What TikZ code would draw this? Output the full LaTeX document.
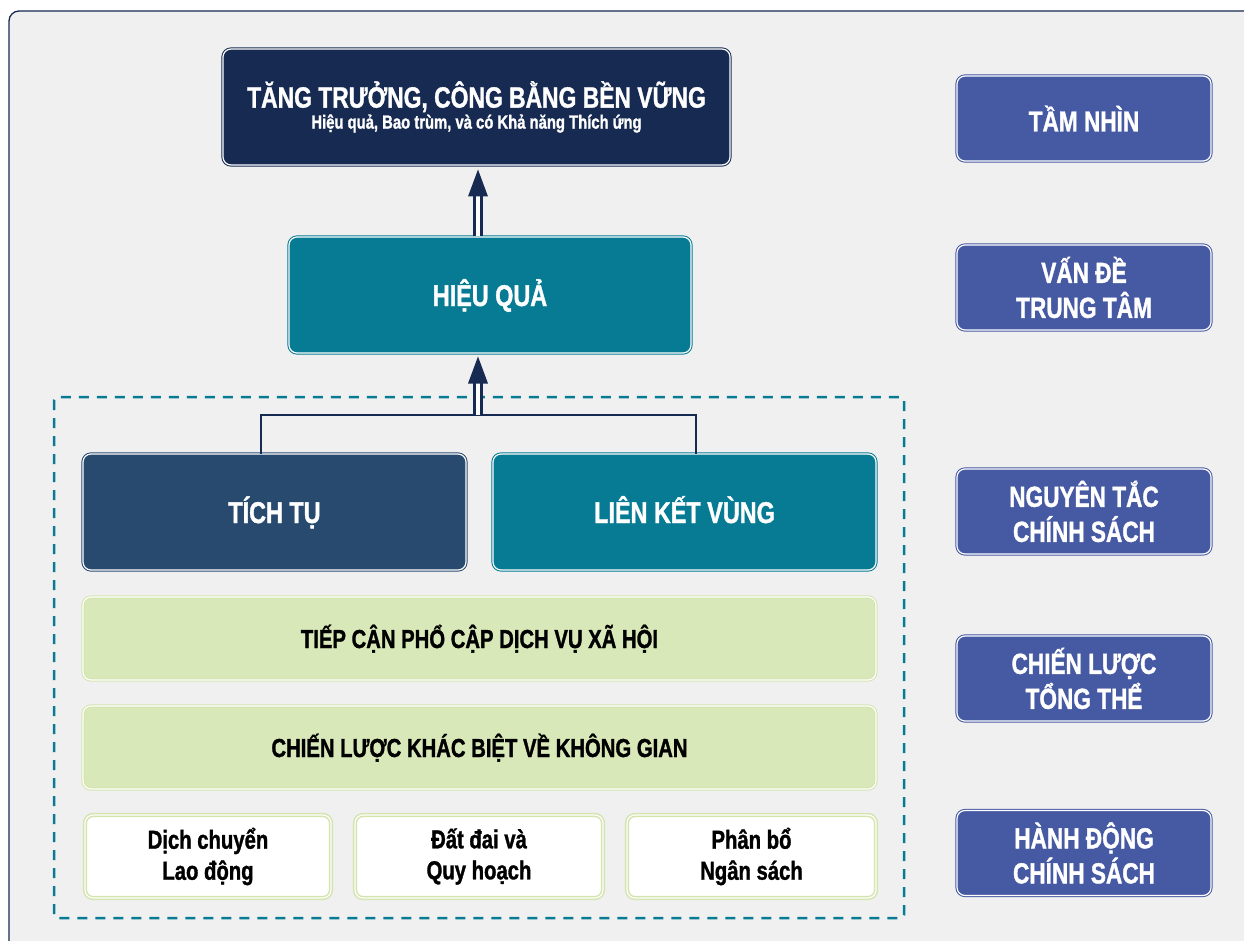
\documentclass[tikz,border=0pt]{standalone}
\usepackage{fontspec}
\setmainfont{Liberation Sans}[FakeStretch=0.78, BoldFeatures={FakeBold=1.2}]
\usepackage{tikz}
\usetikzlibrary{calc}

\definecolor{navy}{HTML}{172A51}
\definecolor{teal}{HTML}{067B93}
\definecolor{steel}{HTML}{284A6E}
\definecolor{indigo}{HTML}{4659A3}
\definecolor{leaf}{HTML}{D9E8B8}
\definecolor{leafline}{HTML}{D3E4AE}
\definecolor{paper}{HTML}{F0F0F0}

\tikzset{
  box/.style={rounded corners=8pt, line width=1pt, double=white, double distance=1.2pt,
    align=center, font=\bfseries, inner sep=0pt},
  darkbox/.style={box, draw=#1, fill=#1, text=white},
  bigbox/.style={darkbox=#1, minimum height=116pt, text height=22pt, text depth=0pt,
    font=\bfseries\fontsize{30}{34}\selectfont},
  labelbox/.style={darkbox=indigo, minimum width=254pt, minimum height=85pt,
    font=\bfseries\fontsize{29}{35}\selectfont},
  greenbox/.style={box, draw=leafline, fill=leaf, minimum width=793pt, minimum height=83pt,
    text height=19pt, text depth=0pt, font=\bfseries\fontsize{26}{30}\selectfont},
  actbox/.style={box, draw=leafline, line width=1.5pt, fill=white, minimum height=83pt,
    font=\bfseries\fontsize{26}{31}\selectfont},
  shaft/.style={draw=navy, line width=3pt, double=white, double distance=4pt},
  tree/.style={draw=navy, line width=2.5pt},
}

\begin{document}
\begin{tikzpicture}[x=1pt, y=-1pt]
  \useasboundingbox (0,0) rectangle (1244,941);
  \clip (0,0) rectangle (1244,941);
  \fill[white] (0,0) rectangle (1244,941);

  % Frame
  \draw[navy, line width=1.3pt, fill=paper, rounded corners=10pt] (9,11) rectangle (1280,980);

  % Dashed group
  \draw[teal, line width=2.5pt, dash pattern=on 10pt off 8pt, rounded corners=3pt]
    (54,397) rectangle (904,918);

  % Goal and central issue
  \node[darkbox=navy, minimum width=507pt, minimum height=116pt,
    font=\bfseries\fontsize{19}{21}\selectfont] (goal) at (476.5,107)
    {{\fontsize{29.3}{21}\selectfont TĂNG TRƯỞNG, CÔNG BẰNG BỀN VỮNG}\\
     Hiệu quả, Bao trùm, và có Khả năng Thích ứng};
  \node[bigbox=teal, minimum width=402pt] (hq) at (490,295) {HIỆU QUẢ};

  % Principles
  \node[bigbox=steel, minimum width=383pt] (tichtu) at (274.5,512) {TÍCH TỤ};
  \node[bigbox=teal, minimum width=383pt] (lienket) at (684.5,512) {LIÊN KẾT VÙNG};

  % Strategies
  \node[greenbox] (tiepcan) at (479.5,638.5) {TIẾP CẬN PHỔ CẬP DỊCH VỤ XÃ HỘI};
  \node[greenbox] (khacbiet) at (479.5,747.5) {CHIẾN LƯỢC KHÁC BIỆT VỀ KHÔNG GIAN};

  % Actions
  \node[actbox, minimum width=246pt] (lao) at (208,856.5) {Dịch chuyển\\Lao động};
  \node[actbox, minimum width=248pt] (dat) at (479,856.5) {Đất đai và\\Quy hoạch};
  \node[actbox, minimum width=249pt] (ngan) at (751.5,856.5) {Phân bổ\\Ngân sách};

  % Level labels
  \node[labelbox] (tam) at (1084,118.5) {TẦM NHÌN};
  \node[labelbox] (van) at (1084,287.5) {VẤN ĐỀ\\TRUNG TÂM};
  \node[labelbox] (nguyen) at (1084,511.5) {NGUYÊN TẮC\\CHÍNH SÁCH};
  \node[labelbox] (chien) at (1084,678.5) {CHIẾN LƯỢC\\TỔNG THỂ};
  \node[labelbox] (hanh) at (1084,853) {HÀNH ĐỘNG\\CHÍNH SÁCH};

  % Tree
  \coordinate (tl) at (261,415);
  \coordinate (tr) at (696,415);
  \coordinate (jn) at (478,415);
  \draw[tree] (tichtu.north -| tl) -- (tl) -- (tr) -- (lienket.north -| tr);

  % Arrows
  \draw[shaft, shorten >=28pt] (jn) -- (hq.south -| jn);
  \fill[navy] (hq.south -| jn) ++(0,3) -- ++(-10,27) -- ++(20,0) -- cycle;
  \draw[shaft, shorten >=28pt] (hq.north -| jn) -- (goal.south -| jn);
  \fill[navy] (goal.south -| jn) ++(0,4) -- ++(-10,27) -- ++(20,0) -- cycle;
\end{tikzpicture}
\end{document}
